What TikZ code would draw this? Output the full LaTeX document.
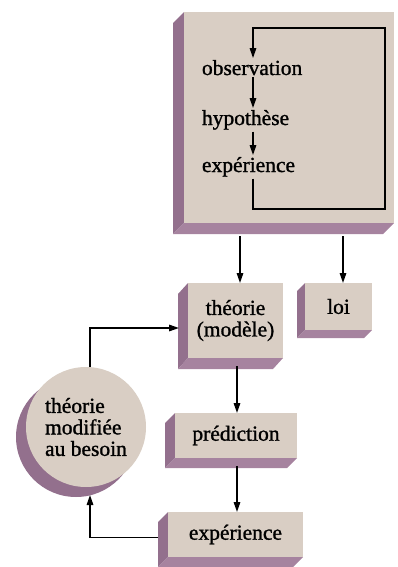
\documentclass[tikz,border=0pt]{standalone}
\usepackage{fontspec}
\setmainfont{Liberation Serif}[FakeBold=1.2]
\usetikzlibrary{calc,arrows.meta,backgrounds}
\definecolor{facec}{HTML}{D9CEC4}
\definecolor{shadl}{HTML}{93708D}
\definecolor{shadb}{HTML}{A6839F}
\tikzset{
  txt/.style={font=\fontsize{21.5}{21.5}\selectfont, inner sep=2pt, outer sep=0pt},
  facebox/.style={txt, fill=facec, draw=none, inner sep=0pt, align=center},
  arr/.style={line width=1.5pt, -{Triangle[length=10pt,width=6.5pt]}},
  plainline/.style={line width=1.5pt}
}
\newcommand\extrude[3]{%
  \fill[shadl] (#1.north west) -- ++(#2,#3) -- ($(#1.south west)+(#2,#3)$) -- (#1.south west) -- cycle;
  \fill[shadb] (#1.south west) -- ($(#1.south west)+(#2,#3)$) -- ($(#1.south east)+(#2,#3)$) -- (#1.south east) -- cycle;}
\begin{document}
\begin{tikzpicture}[x=1pt,y=-1pt]
\useasboundingbox (0,0) rectangle (397,567);
% boxes
\node[facebox, minimum width=210pt, minimum height=211pt, anchor=north west] (big) at (184,12) {};
\node[facebox, minimum width=95pt, minimum height=75pt, anchor=north west] (theo) at (188,283) {théorie\\(modèle)};
\node[facebox, minimum width=67pt, minimum height=47pt, anchor=north west] (loi) at (305,283) {loi};
\node[facebox, minimum width=122pt, minimum height=45pt, anchor=north west] (pred) at (175,413) {prédiction};
\node[facebox, minimum width=135pt, minimum height=45pt, anchor=north west] (expb) at (168,512) {expérience};
\node[facebox, circle, minimum size=120pt, align=left] (circ) at (86,427) {théorie\\modifiée\\au besoin};
\begin{scope}[on background layer]
  \extrude{big}{-11}{11}
  \extrude{theo}{-10}{11}
  \extrude{loi}{-8}{8}
  \extrude{pred}{-10}{10}
  \extrude{expb}{-10}{10}
  \fill[shadl] ($(circ.center)+(-10,10)$) circle (60);
\end{scope}
% texts in big box
\node[txt, anchor=base west] (obs) at (200,75) {observation};
\node[txt, anchor=base west] (hyp) at (200,125) {hypothèse};
\node[txt, anchor=base west] (expa) at (200,172) {expérience};
% loop
\coordinate (lt) at (253,28);
\coordinate (rt) at (385,28);
\coordinate (rb) at (385,209);
\coordinate (lb) at (253,209);
\draw[arr] (lt |- expa.south) -- (lb) -- (rb) -- (rt) -- (lt) -- (lt |- obs.north);
\draw[arr] (lt |- obs.south) -- (lt |- hyp.north);
\draw[arr] (lt |- hyp.south) -- (lt |- expa.north);
% arrows down from big box
\coordinate (ta) at (240,236);
\coordinate (la) at (343,236);
\draw[arr] (ta) -- (ta |- theo.north);
\draw[arr] (la) -- (la |- loi.north);
\coordinate (tp) at (237,366);
\draw[arr] (tp) -- (tp |- pred.north);
\coordinate (pe) at (237,466);
\draw[arr] (pe) -- (pe |- expb.north);
% circle connectors
\draw[arr] ($(circ.north)+(4,0)$) |- ($(theo.west)+(-9,7.5)$);
\draw[arr] ($(expb.west)+(-10,3)$) -| ($(circ.south)+(4,8)$);
\end{tikzpicture}
\end{document}
